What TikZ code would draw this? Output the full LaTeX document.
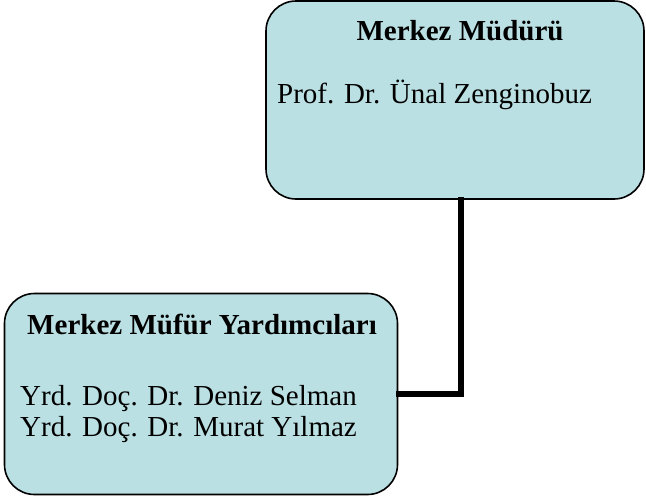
\documentclass[tikz,border=0pt]{standalone}
\usepackage{fontspec}
\setmainfont{Liberation Serif}
\usetikzlibrary{positioning}

\definecolor{kuturengi}{RGB}{187,224,227}
\newcommand{\yazi}{\fontsize{29}{32}\selectfont}

\tikzset{
	kutu/.style={draw, fill=kuturengi, line width=1.6pt, rounded corners=30pt},
	baslik/.style={anchor=base, font=\yazi\bfseries},
	isim/.style={anchor=base west, inner sep=0pt, font=\yazi},
	baglanti/.style={line width=5.5pt, line cap=rect},
}

\begin{document}
\begin{tikzpicture}[x=1pt, y=-1pt]
	\useasboundingbox (0,0) rectangle (646,498);

	\node[kutu, minimum width=378pt, minimum height=198pt] (mudur) at (455,100) {};
	\node[kutu, minimum width=393pt, minimum height=201pt] (yardimci) at (201,394) {};

	\node[baslik] (mudurbaslik) at (460,40) {Merkez Müdürü};
	\node[isim] (mudurisim) at (277,103) {Prof. Dr. Ünal Zenginobuz};

	\node[baslik] (yardimcibaslik) at (202,334) {Merkez Müfür Yardımcıları};
	\node[isim] (yardimci1) at (20,405) {Yrd. Doç. Dr. Deniz Selman};
	\node[isim, below=0pt of yardimci1.base west, anchor=base west, yshift=-31pt] (yardimci2) {Yrd. Doç. Dr. Murat Yılmaz};

	\draw[baglanti] ([xshift=6pt]mudur.south) |- (yardimci.east);
\end{tikzpicture}
\end{document}
